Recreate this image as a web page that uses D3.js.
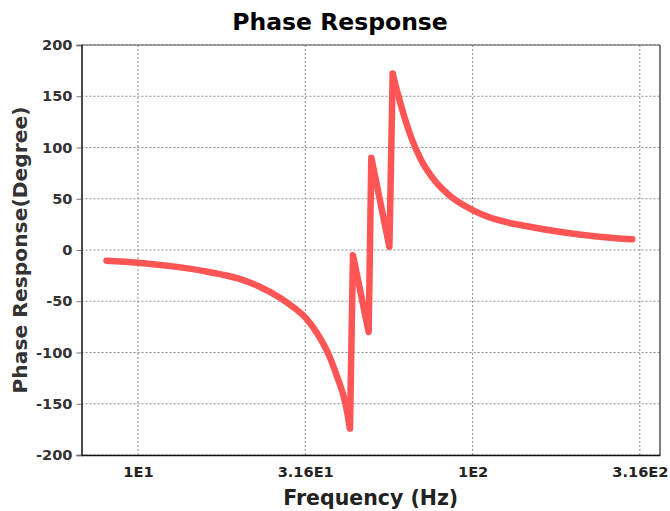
<!DOCTYPE html>
<html>
<head>
<meta charset="utf-8">
<script src="https://cdn.jsdelivr.net/npm/d3@7/dist/d3.min.js"></script>
<style>
  html, body { margin: 0; padding: 0; background: #fff; }
  svg { display: block; font-family: "DejaVu Sans", sans-serif; }
</style>
</head>
<body>
<svg id="chart" width="670" height="511"></svg>
<script>
// Data
const frequencies = [8.05, 10, 12.7, 16, 20, 23.1, 26.4, 29, 31.8, 34.1, 36.9, 39.3, 41.7, 43.0,
                     43.9, 48.9, 49.8, 56.4, 57.7, 59.7, 62.5, 65.5, 70.1, 76.9, 86.2,
                     100, 118.8, 142.6, 190, 239, 300];
const phases = [-10.4, -12.4, -16, -21, -28, -35.8, -46, -55.3, -66.7, -80, -100, -123, -150, -174,
                -5, -80, 90, 3, 172, 153, 130, 110, 88, 68, 52,
                39, 29.3, 23.7, 16.9, 13, 10.4];
const yTicks = [-200, -150, -100, -50, 0, 50, 100, 150, 200];
const xTicks = [10, 31.6, 100, 316];
const xTickLabels = ["1E1", "3.16E1", "1E2", "3.16E2"];

const svg = d3.select("#chart");
const m = { left: 81.5, right: 660, top: 45, bottom: 455 };

const x = d3.scaleLog().domain([6.78, 363]).range([m.left, m.right]);
const y = d3.scaleLinear().domain([-200, 200]).range([m.bottom, m.top]);

// grid
const g = svg.append("g");
g.selectAll(".hg").data(yTicks).enter().append("line")
  .attr("x1", m.left).attr("x2", m.right)
  .attr("y1", d => y(d)).attr("y2", d => y(d))
  .attr("stroke", "#8a8a8a").attr("stroke-width", 1).attr("stroke-dasharray", "2,2");
g.selectAll(".vg").data(xTicks).enter().append("line")
  .attr("x1", d => x(d)).attr("x2", d => x(d))
  .attr("y1", m.top).attr("y2", m.bottom)
  .attr("stroke", "#8a8a8a").attr("stroke-width", 1).attr("stroke-dasharray", "2,2");

// frame
svg.append("line").attr("x1", m.left).attr("x2", m.right).attr("y1", m.top).attr("y2", m.top)
  .attr("stroke", "#555").attr("stroke-width", 1);
svg.append("line").attr("x1", m.right).attr("x2", m.right).attr("y1", m.top).attr("y2", m.bottom)
  .attr("stroke", "#555").attr("stroke-width", 1.5);

// y axis
const yAxis = d3.axisLeft(y).tickValues(yTicks).tickFormat(d => String(d)).tickSize(5).tickPadding(4);
const ya = svg.append("g").attr("transform", `translate(${m.left},0)`).call(yAxis);
ya.select(".domain").attr("stroke", "#111").attr("stroke-width", 1.5);
ya.selectAll(".tick line").attr("stroke", "#777");
ya.selectAll(".tick text").attr("font-family", "DejaVu Sans").attr("font-weight", "bold")
  .attr("font-size", "14.6px").attr("fill", "#333");

// x axis
const xAxis = d3.axisBottom(x).tickValues(xTicks).tickFormat((d, i) => xTickLabels[i]).tickSize(0).tickPadding(12);
const xa = svg.append("g").attr("transform", `translate(0,${m.bottom})`).call(xAxis);
xa.select(".domain").attr("stroke", "#111").attr("stroke-width", 1.5);
xa.selectAll(".tick text").attr("font-family", "DejaVu Sans").attr("font-weight", "bold")
  .attr("font-size", "14.6px").attr("fill", "#222");

// data
const pts = frequencies.map((f, i) => [f, phases[i]]);
const linear = d3.line().x(d => x(d[0])).y(d => y(d[1]));
const smooth = d3.line().x(d => x(d[0])).y(d => y(d[1])).curve(d3.curveMonotoneX);

// segments: smooth descent, sharp jumps, smooth decay
const iTrough = 13, iPeak = 18;
const segs = [
  { data: pts.slice(0, iTrough + 1), gen: smooth },
  { data: pts.slice(iTrough, iPeak + 1), gen: linear },
  { data: pts.slice(iPeak), gen: smooth }
];

svg.append("path").datum(pts).attr("d", linear)
  .attr("fill", "none").attr("stroke", "#dccbe6").attr("stroke-width", 1)
  .attr("stroke-linejoin", "miter").attr("stroke-miterlimit", 40);
segs.forEach(s => {
  svg.append("path").datum(s.data).attr("d", s.gen)
    .attr("fill", "none").attr("stroke", "#ff5555").attr("stroke-width", 6.5)
    .attr("stroke-linejoin", "round").attr("stroke-linecap", "round");
});

// titles
svg.append("text").attr("x", 340).attr("y", 30).attr("text-anchor", "middle")
  .attr("font-weight", "bold").attr("font-size", "23.5px").attr("fill", "#000")
  .text("Phase Response");
svg.append("text").attr("x", (m.left + m.right) / 2).attr("y", 505).attr("text-anchor", "middle")
  .attr("font-weight", "bold").attr("font-size", "20.5px").attr("fill", "#222")
  .text("Frequency (Hz)");
svg.append("text").attr("transform", `translate(27,${(m.top + m.bottom) / 2}) rotate(-90)`)
  .attr("text-anchor", "middle")
  .attr("font-weight", "bold").attr("font-size", "20.3px").attr("fill", "#333")
  .text("Phase Response(Degree)");
</script>
</body>
</html>
